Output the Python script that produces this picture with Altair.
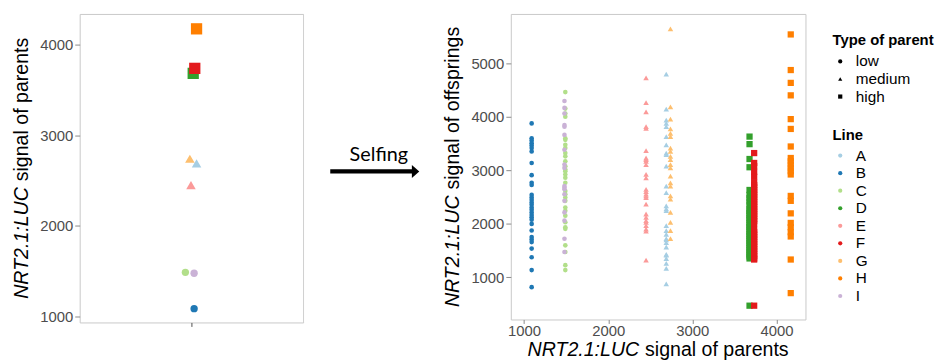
import altair as alt
import pandas as pd

# ---------------- data ----------------
LINES = ["A", "B", "C", "D", "E", "F", "G", "H", "I"]
PARENT_TYPE = ["medium", "low", "low", "high", "medium", "high", "medium", "high", "low"]
PARENT_SIGNAL = [2690, 1090, 1490, 3680, 2450, 3735, 2740, 4170, 1480]
PARENT_JITTER = [0.523, 0.512, 0.473, 0.508, 0.498, 0.515, 0.493, 0.523, 0.512]
TYPES = ["low", "medium", "high"]
PAIRED = ["#A6CEE3", "#1F78B4", "#B2DF8A", "#33A02C", "#FB9A99",
          "#E31A1C", "#FDBF6F", "#FF7F00", "#CAB2D6"]

OFF_A = [4800, 4142, 3939, 3877, 3815, 3630, 3477, 3322, 3292, 3076, 2706, 2582,
         2336, 2280, 2244, 1967, 1874, 1800, 1721, 1700, 1650, 1566, 1430, 1412,
         1351, 1258, 1166, 876]
OFF_B = [3877, 3599, 3556, 3507, 3464, 3415, 3353, 3137, 2909, 2767, 2725, 2540,
         2490, 2447, 2398, 2355, 2305, 2262, 2213, 2164, 2121, 2077, 1998, 1874,
         1751, 1708, 1658, 1536, 1375, 1135, 815]
OFF_C = [4462, 4153, 4061, 4000, 3599, 3569, 3477, 3415, 3322, 3261, 3168, 3076,
         3014, 2983, 2922, 2860, 2767, 2614, 2553, 2490, 2429, 2305, 2244, 2152,
         2028, 1935, 1906, 1597, 1473, 1227, 1135]
OFF_D = [3630, 3489, 3211, 3057, 2632, 2540, 2478, 2416, 2355, 2281, 2239, 2196,
         2158, 2104, 2071, 2019, 1972, 1938, 1893, 1851, 1806, 1769, 1722, 1684,
         1641, 1597, 1553, 1512, 1468, 1427, 1389, 1352, 469]
OFF_E = [4727, 4265, 4093, 3815, 3784, 3366, 3230, 3200, 3168, 3107, 2922, 2860,
         2645, 2600, 2553, 2520, 2490, 2368, 2183, 2121, 2060, 2028, 1967, 1900,
         1861, 1320]
OFF_F = [3322, 3137, 3076, 2971, 2878, 2767, 2722, 2680, 2631, 2587, 2546, 2498,
         2455, 2409, 2362, 2318, 2271, 2230, 2186, 2139, 2094, 2051, 1998, 1887,
         1842, 1796, 1752, 1708, 1661, 1617, 1573, 1528, 1485, 1440, 1396, 1352,
         1332, 469]
OFF_G = [5645, 4185, 3957, 3773, 3692, 3630, 3415, 3353, 3261, 3199, 3107, 3045,
         2891, 2767, 2706, 2521, 2460, 2213, 2028, 1874, 1721]
OFF_H = [5540, 4874, 4634, 4401, 3957, 3773, 3445, 3230, 3168, 3107, 3045, 2983,
         2922, 2521, 2429, 2195, 2016, 1935, 1843, 1763, 1332, 704]
OFF_I = [4296, 4166, 4061, 3846, 3815, 3662, 3384, 3107, 3045, 2706, 2675, 2645,
         2553, 2429, 2213, 2059, 1721, 1473]

OFFSPRING = {"A": OFF_A, "B": OFF_B, "C": OFF_C, "D": OFF_D, "E": OFF_E,
             "F": OFF_F, "G": OFF_G, "H": OFF_H, "I": OFF_I}

TITLE_ITALIC = "NRT2.1:LUC"
TITLE_PARENTS = "signal of parents"
TITLE_OFFSPRING = "signal of offsprings"
ARROW_LABEL = "Selfing"

parents_df = pd.DataFrame({"line": LINES, "type": PARENT_TYPE,
                           "parent": PARENT_SIGNAL, "jit": PARENT_JITTER})
rows = []
for ln, tp, ps in zip(LINES, PARENT_TYPE, PARENT_SIGNAL):
    for v in OFFSPRING[ln]:
        rows.append({"line": ln, "type": tp, "parent": ps, "value": v})
off_df = pd.DataFrame(rows)

# ---------------- layout constants ----------------
FONT = "Liberation Sans"
FS_T = 19.8
W_L, H_L = 226, 312
W_M = 140
W_R, H_R = 298, 309

EM = {'N': .722, 'R': .722, 'T': .611, '2': .556, '.': .278, '1': .556, ':': .278,
      'L': .556, 'U': .722, 'C': .722, ' ': .278, 's': .5, 'i': .222, 'g': .556,
      'n': .556, 'a': .556, 'l': .222, 'o': .556, 'f': .278, 'p': .556, 'r': .333,
      'e': .556, 't': .278}


def tw(s):
    return sum(EM[c] for c in s) * FS_T


def one():
    return pd.DataFrame({"k": [0]})


def vtitle(rest, h, xoff):
    total = tw(TITLE_ITALIC + " " + rest)
    y0 = h / 2 + total / 2
    y1 = y0 - tw(TITLE_ITALIC + " ")
    a = alt.Chart(one()).mark_text(text=TITLE_ITALIC, font=FONT, fontSize=FS_T, fontStyle="italic",
                                    angle=270, align="left", baseline="alphabetic", color="black"
                                    ).encode(x=alt.value(xoff), y=alt.value(y0))
    b = alt.Chart(one()).mark_text(text=rest, font=FONT, fontSize=FS_T,
                                    angle=270, align="left", baseline="alphabetic", color="black"
                                    ).encode(x=alt.value(xoff), y=alt.value(y1))
    return [a, b]


def htitle(rest, w, ypos):
    total = tw(TITLE_ITALIC + " " + rest)
    x0 = w / 2 - total / 2
    x1 = x0 + tw(TITLE_ITALIC + " ")
    a = alt.Chart(one()).mark_text(text=TITLE_ITALIC, font=FONT, fontSize=FS_T, fontStyle="italic",
                                    align="left", baseline="alphabetic", color="black"
                                    ).encode(x=alt.value(x0), y=alt.value(ypos))
    b = alt.Chart(one()).mark_text(text=rest, font=FONT, fontSize=FS_T,
                                    align="left", baseline="alphabetic", color="black"
                                    ).encode(x=alt.value(x1), y=alt.value(ypos))
    return [a, b]


# legend positions are relative to the left panel's plot origin
shape_legend = alt.Legend(title="Type of parent", orient="none", legendX=761.4, legendY=19.8)
color_legend = alt.Legend(title="Line", orient="none", legendX=761.4, legendY=115)


def enc_shape():
    return alt.Shape("type:N", scale=alt.Scale(domain=TYPES, range=["circle", "triangle-up", "square"]),
                     legend=shape_legend)


def enc_color():
    return alt.Color("line:N", scale=alt.Scale(domain=LINES, range=PAIRED), legend=color_legend)


AX = dict(labelFont=FONT, labelFontSize=15, labelColor="#4D4D4D", format="d", title=None)

# ---------------- left panel ----------------
left_pts = alt.Chart(parents_df).mark_point(filled=True, opacity=1, color="black").encode(
    x=alt.X("jit:Q", scale=alt.Scale(domain=[0, 1], nice=False, zero=False),
            axis=alt.Axis(values=[0.5], labels=False, title=None, tickSize=4, tickColor="#4D4D4D")),
    y=alt.Y("parent:Q", scale=alt.Scale(domain=[938, 4334], nice=False, zero=False),
            axis=alt.Axis(values=[1000, 2000, 3000, 4000], **AX)),
    shape=enc_shape(),
    color=enc_color(),
    size=alt.Size("type:N", scale=alt.Scale(domain=TYPES, range=[55, 130, 85]), legend=None),
)
left = alt.layer(left_pts, *vtitle(TITLE_PARENTS, H_L, -52)).properties(width=W_L, height=H_L)

# ---------------- middle (arrow) ----------------
m_rule = alt.Chart(one()).mark_rule(color="black", strokeWidth=4.3).encode(
    x=alt.value(26.4), x2=alt.value(110), y=alt.value(159.3))
m_head = alt.Chart(one()).mark_point(shape="M-0.56,-1L0.56,0L-0.56,1Z", filled=True, opacity=1,
                                     color="black", size=177).encode(
    x=alt.value(112.7), y=alt.value(159.3))
m_text = alt.Chart(one()).mark_text(text=ARROW_LABEL, font="Lato", fontSize=20, color="black",
                                    align="center", baseline="alphabetic").encode(
    x=alt.value(75.5), y=alt.value(148.3))
middle = alt.layer(m_rule, m_head, m_text).properties(
    width=W_M, height=H_L, view=alt.ViewBackground(fill="white", strokeWidth=0))

# ---------------- right panel ----------------
right_pts = alt.Chart(off_df).mark_point(filled=True, opacity=1, color="black").encode(
    x=alt.X("parent:Q", scale=alt.Scale(domain=[842, 4345], nice=False, zero=False),
            axis=alt.Axis(values=[1000, 2000, 3000, 4000], tickSize=4, labelPadding=0, **AX)),
    y=alt.Y("value:Q", scale=alt.Scale(domain=[211, 5923], nice=False, zero=False),
            axis=alt.Axis(values=[1000, 2000, 3000, 4000, 5000], **AX)),
    shape=enc_shape(),
    color=enc_color(),
    size=alt.Size("type:N", scale=alt.Scale(domain=TYPES, range=[22, 40, 30]), legend=None),
)
right = alt.layer(right_pts, *vtitle(TITLE_OFFSPRING, H_R, -52),
                  *htitle(TITLE_PARENTS, W_R, H_R + 37)).properties(width=W_R, height=H_R)

chart = alt.hconcat(left, middle, right, spacing=0).resolve_scale(
    size="independent"
).properties(
    padding={"left": 3.5, "top": 3, "right": 0, "bottom": 0}
).configure(font=FONT).configure_view(
    stroke="#C8C8C8", strokeWidth=1
).configure_axis(
    labelFont=FONT, labelFontSize=15, labelColor="#4D4D4D", tickColor="#8A8A8A",
    tickSize=5, labelPadding=2, domain=False, grid=False
).configure_legend(
    titleFont=FONT, titleFontSize=15, titleFontWeight="bold", titleColor="black",
    labelFont=FONT, labelFontSize=15.5, labelColor="black", symbolSize=18,
    rowPadding=0.75, titlePadding=5.5, padding=0, labelOffset=8, symbolOffset=0,
    symbolStrokeWidth=0
)

chart.save("out.html", embed_options={"renderer": "svg", "actions": False})
